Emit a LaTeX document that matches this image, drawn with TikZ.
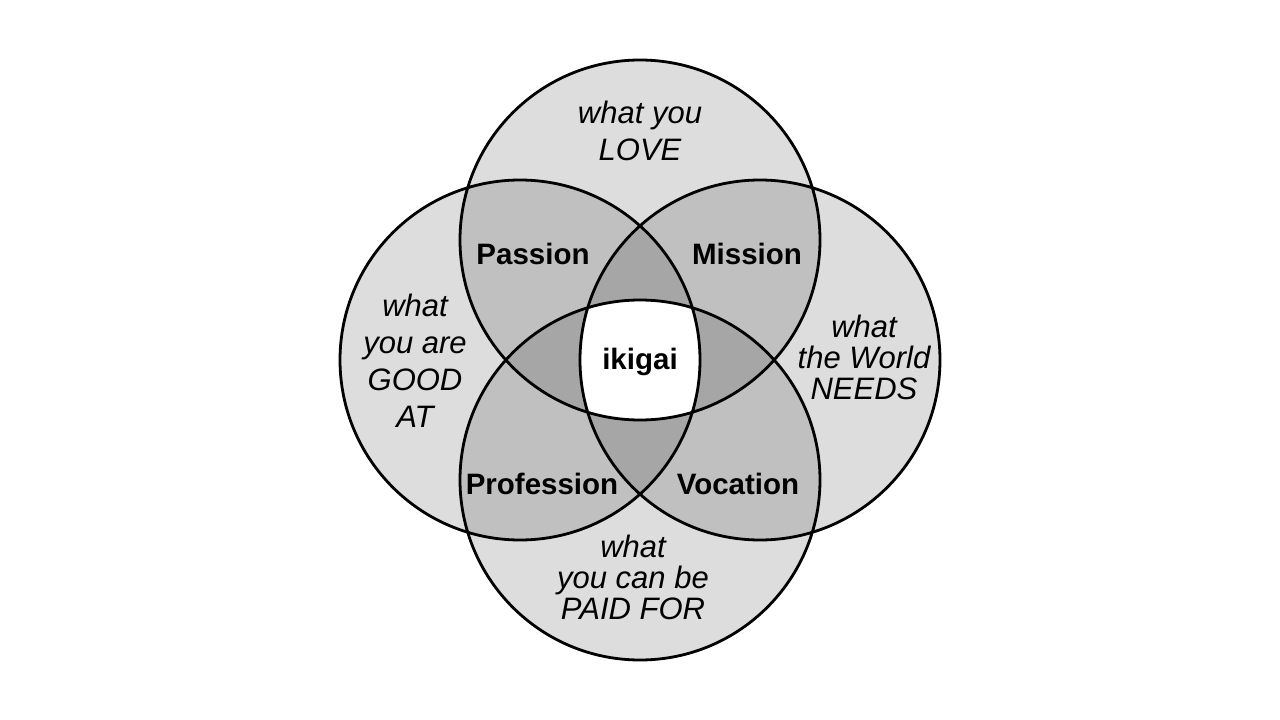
\documentclass[tikz,border=0pt]{standalone}
\usepackage{fontspec}
\setmainfont{Liberation Sans}
\usetikzlibrary{positioning}
\definecolor{oneset}{HTML}{DDDDDD}
\definecolor{twoset}{HTML}{C0C0C0}
\definecolor{threeset}{HTML}{A6A6A6}
\newcommand{\disc}[1]{(#1) circle (180pt)}

\begin{document}
\begin{tikzpicture}[
  x=1pt, y=-1pt,
  ring/.style={draw=black,line width=2.8pt},
  want/.style={font=\fontsize{31}{37}\selectfont\itshape,align=center,inner sep=0pt},
  wanttight/.style={font=\fontsize{31}{31}\selectfont\itshape,align=center,inner sep=0pt},
  blend/.style={font=\fontsize{29.5}{32}\selectfont\bfseries,inner sep=0pt},
]
\useasboundingbox (0,0) rectangle (1280,720);
\coordinate (love)  at (640,240);
\coordinate (good)  at (520,360);
\coordinate (world) at (760,360);
\coordinate (paid)  at (640,480);

% single sets
\fill[oneset] \disc{love} \disc{good} \disc{world} \disc{paid};
% pairs
\begin{scope}
  \clip \disc{love};
  \fill[twoset] \disc{good}; \fill[twoset] \disc{world}; \fill[twoset] \disc{paid};
\end{scope}
\begin{scope}
  \clip \disc{good};
  \fill[twoset] \disc{world}; \fill[twoset] \disc{paid};
\end{scope}
\begin{scope}
  \clip \disc{world};
  \fill[twoset] \disc{paid};
\end{scope}
% triples
\begin{scope}
  \clip \disc{love}; \clip \disc{good};
  \fill[threeset] \disc{world}; \fill[threeset] \disc{paid};
\end{scope}
\begin{scope}
  \clip \disc{love}; \clip \disc{world};
  \fill[threeset] \disc{paid};
\end{scope}
\begin{scope}
  \clip \disc{good}; \clip \disc{world};
  \fill[threeset] \disc{paid};
\end{scope}
% all four
\begin{scope}
  \clip \disc{love}; \clip \disc{good}; \clip \disc{world};
  \fill[white] \disc{paid};
\end{scope}
\draw[ring] \disc{love} \disc{good} \disc{world} \disc{paid};

\node[want] (lovetxt) at (640,131) {what you\\LOVE};
\node[want] (goodtxt) at (415,361) {what\\you are\\GOOD\\AT};
\node[wanttight] (worldtxt) at (864,357) {what\\the World\\NEEDS};
\node[wanttight] (paidtxt) at (633,577) {what\\you can be\\PAID FOR};

\node[blend] (passion)    at (533,254) {Passion};
\node[blend] (mission)    at (747,254) {Mission};
\node[blend] (profession) at (542,484) {Profession};
\node[blend] (vocation)   at (738,484) {Vocation};
\node[blend] (ikigai)     at (640,362) {ikigai};
\end{tikzpicture}
\end{document}
